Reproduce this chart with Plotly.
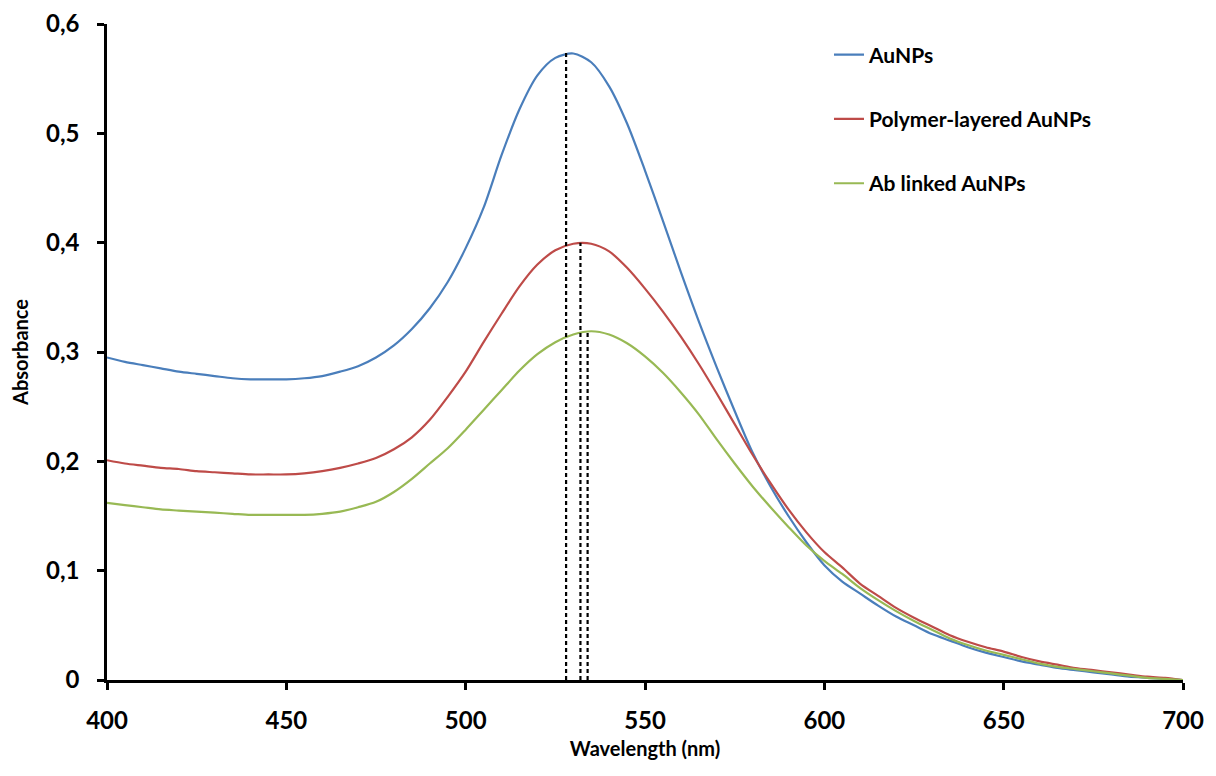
import plotly.graph_objects as go

wavelength = list(range(400, 701, 5))

aunps = [0.295, 0.291, 0.288, 0.285, 0.282, 0.280, 0.278, 0.276, 0.275, 0.275,
         0.275, 0.276, 0.278, 0.282, 0.287, 0.295, 0.306, 0.321, 0.340, 0.364,
         0.395, 0.432, 0.480, 0.522, 0.553, 0.569, 0.573, 0.565, 0.543, 0.509,
         0.466, 0.420, 0.373, 0.328, 0.286, 0.246, 0.208, 0.177, 0.150, 0.126,
         0.105, 0.090, 0.079, 0.068, 0.058, 0.050, 0.042, 0.036, 0.030, 0.025,
         0.021, 0.017, 0.014, 0.011, 0.009, 0.007, 0.005, 0.003, 0.002, 0.001,
         0.000]

polymer = [0.201, 0.198, 0.196, 0.194, 0.193, 0.191, 0.190, 0.189, 0.188, 0.188,
           0.188, 0.189, 0.191, 0.194, 0.198, 0.203, 0.211, 0.222, 0.238, 0.259,
           0.282, 0.309, 0.335, 0.360, 0.380, 0.393, 0.399, 0.399, 0.392, 0.377,
           0.358, 0.337, 0.314, 0.289, 0.262, 0.234, 0.206, 0.180, 0.156, 0.135,
           0.117, 0.103, 0.088, 0.077, 0.066, 0.057, 0.049, 0.041, 0.035, 0.030,
           0.026, 0.021, 0.017, 0.014, 0.011, 0.009, 0.007, 0.005, 0.003, 0.002,
           0.000]

ab_linked = [0.162, 0.160, 0.158, 0.156, 0.155, 0.154, 0.153, 0.152, 0.151, 0.151,
             0.151, 0.151, 0.152, 0.154, 0.158, 0.163, 0.172, 0.184, 0.198, 0.212,
             0.229, 0.247, 0.265, 0.283, 0.298, 0.309, 0.316, 0.319, 0.316, 0.308,
             0.296, 0.281, 0.263, 0.243, 0.220, 0.198, 0.177, 0.158, 0.140, 0.123,
             0.109, 0.097, 0.084, 0.073, 0.063, 0.054, 0.046, 0.038, 0.032, 0.027,
             0.023, 0.019, 0.015, 0.012, 0.010, 0.008, 0.006, 0.004, 0.002, 0.001,
             0.000]

series_names = ["AuNPs", "Polymer-layered AuNPs", "Ab linked AuNPs"]
series_values = [aunps, polymer, ab_linked]
colors = ["#4a7ebb", "#be4b48", "#98b954"]

peak_wavelengths = [528, 532, 534]
peak_absorbances = [0.574, 0.400, 0.319]

x_ticks = [400, 450, 500, 550, 600, 650, 700]
y_ticks = [0, 0.1, 0.2, 0.3, 0.4, 0.5, 0.6]

FONT = "Lato"

fig = go.Figure()

for name, vals, col in zip(series_names, series_values, colors):
    fig.add_trace(go.Scatter(
        x=wavelength, y=vals, mode="lines", name=name, legendgroup=name,
        line=dict(color=col, width=2.2, shape="spline", smoothing=0.8),
    ))

for wl, ab in zip(peak_wavelengths, peak_absorbances):
    fig.add_trace(go.Scatter(
        x=[wl, wl], y=[0, ab], mode="lines", showlegend=False,
        line=dict(color="black", width=2.2, dash="4px,3px"),
        hoverinfo="skip",
    ))

fig.update_layout(
    width=1200, height=764,
    margin=dict(l=99, r=25, t=16, b=92, autoexpand=False),
    paper_bgcolor="white", plot_bgcolor="white",
    separators=", ",
    font=dict(family=FONT, size=21, color="black"),
    showlegend=True,
    legend=dict(
        x=0.671, y=0.984, xanchor="left", yanchor="top",
        bgcolor="rgba(0,0,0,0)", tracegroupgap=34,
        font=dict(family=FONT, size=21, color="black", weight="bold"),
    ),
    xaxis=dict(
        range=[400, 700], tickvals=x_ticks, automargin=False,
        showgrid=False, zeroline=False, showline=True, linecolor="black",
        linewidth=2.5, ticks="outside", ticklen=7, tickwidth=2.5,
        tickcolor="black", ticklabelstandoff=10, ticklabeloverflow="allow",
        tickfont=dict(family=FONT, size=24, weight="bold"),
        title=dict(text="Wavelength (nm)", standoff=10,
                   font=dict(family=FONT, size=20, weight="bold")),
    ),
    yaxis=dict(
        range=[0, 0.6], tickvals=y_ticks, automargin=False,
        showgrid=False, zeroline=False, showline=True, linecolor="black",
        linewidth=2.5, ticks="outside", ticklen=7, tickwidth=2.5,
        tickcolor="black", ticklabelstandoff=13, ticklabeloverflow="allow",
        tickfont=dict(family=FONT, size=24, weight="bold"),
        title=dict(text="Absorbance", standoff=12,
                   font=dict(family=FONT, size=20, weight="bold")),
    ),
)

fig.write_html("out.html")
